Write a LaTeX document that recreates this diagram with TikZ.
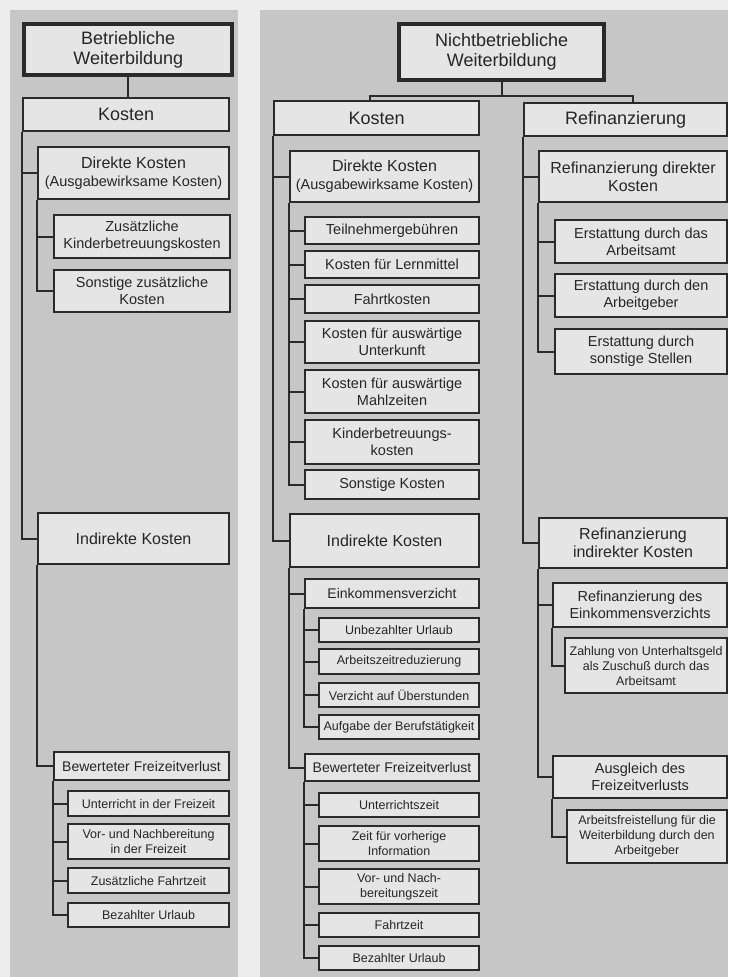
\documentclass[tikz,border=0pt]{standalone}
\usepackage{fontspec}
\setmainfont{Liberation Sans}
\usetikzlibrary{calc}
\definecolor{page}{HTML}{EDEDED}
\definecolor{panel}{HTML}{C6C6C6}
\definecolor{boxfill}{HTML}{E5E5E5}
\definecolor{ink}{HTML}{2A2A2A}

\begin{document}
\begin{tikzpicture}[x=1pt,y=-1pt,
    box/.style={draw=ink,fill=boxfill,line width=2.1pt,anchor=north west,
        align=center,inner sep=0pt,text=ink!90!black},
    sz/.style 2 args={minimum width=#1pt,minimum height=#2pt},
    head/.style={line width=4.4pt},
    lvA/.style={font=\fontsize{18}{20}\selectfont},
    lvB/.style={font=\fontsize{16}{18}\selectfont},
    lvC/.style={font=\fontsize{14.5}{17}\selectfont},
    lvD/.style={font=\fontsize{12.5}{15}\selectfont},
    link/.style={draw=ink,line width=2.1pt}]
    \fill[page](0,0)rectangle(728,977);
    \fill[panel](10,10)rectangle(238,977);
    \fill[panel](260,10)rectangle(728,977);

    \node[box,head,lvA,sz={208}{51}](bw)at(22,22){Betriebliche\\Weiterbildung};
    \node[box,lvA,sz={206}{33}](bk)at(22,97){Kosten};
    \node[box,lvB,sz={191}{52}](bdk)at(37,146){Direkte Kosten\\{\fontsize{14.5}{17}\selectfont(Ausgabewirksame Kosten)}};
    \node[box,lvC,sz={176}{43}](bd1)at(53,214){Zusätzliche\\Kinderbetreuungskosten};
    \node[box,lvC,sz={176}{42}](bd2)at(53,269){Sonstige zusätzliche\\Kosten};
    \node[box,lvB,sz={191}{51}](bik)at(37,512){Indirekte Kosten};
    \node[box,lvC,font=\fontsize{14}{17}\selectfont,sz={175}{28}](bfz)at(53,751){Bewerteter Freizeitverlust};
    \node[box,lvD,sz={161}{25}](bf1)at(67,790){Unterricht in der Freizeit};
    \node[box,lvD,sz={161}{35}](bf2)at(67,823){Vor- und Nachbereitung\\in der Freizeit};
    \node[box,lvD,sz={161}{25}](bf3)at(67,867){Zusätzliche Fahrtzeit};
    \node[box,lvD,sz={161}{24}](bf4)at(67,902){Bezahlter Urlaub};

    \draw[link](bw.south)--(bw.south|-bk.north);
    \draw[link](bk.south west)|-(bdk.west) (bk.south west)|-(bik.west);
    \draw[link](bdk.south west)|-(bd1.west) (bdk.south west)|-(bd2.west);
    \draw[link](bik.south west)|-(bfz.west);
    \foreach \n in {bf1,bf2,bf3,bf4}
        \draw[link](bfz.south west)|-(\n.west);

    \node[box,head,lvA,sz={205}{56}](nw)at(397,22){Nichtbetriebliche\\Weiterbildung};
    \node[box,lvA,sz={205}{34}](nk)at(273,100){Kosten};
    \node[box,lvB,sz={189}{51}](ndk)at(289,150){Direkte Kosten\\{\fontsize{14.5}{17}\selectfont(Ausgabewirksame Kosten)}};
    \node[box,lvC,sz={174}{27}](nd1)at(304,216){Teilnehmergebühren};
    \node[box,lvC,sz={174}{27}](nd2)at(304,250){Kosten für Lernmittel};
    \node[box,lvC,sz={174}{28}](nd3)at(304,284){Fahrtkosten};
    \node[box,lvC,sz={174}{42}](nd4)at(304,320){Kosten für auswärtige\\Unterkunft};
    \node[box,lvC,sz={174}{43}](nd5)at(304,369){Kosten für auswärtige\\Mahlzeiten};
    \node[box,lvC,sz={174}{44}](nd6)at(304,419){Kinderbetreuungs-\\kosten};
    \node[box,lvC,sz={174}{29}](nd7)at(304,469){Sonstige Kosten};
    \node[box,lvB,sz={189}{53}](nik)at(289,513){Indirekte Kosten};
    \node[box,lvC,font=\fontsize{14}{17}\selectfont,sz={174}{29}](nev)at(304,578){Einkommensverzicht};
    \node[box,lvD,sz={160}{24}](ne1)at(318,617){Unbezahlter Urlaub};
    \node[box,lvD,sz={160}{25}](ne2)at(318,648){Arbeitszeitreduzierung};
    \node[box,lvD,sz={160}{24}](ne3)at(318,682){Verzicht auf Überstunden};
    \node[box,lvD,sz={160}{24}](ne4)at(318,714){Aufgabe der Berufstätigkeit};
    \node[box,lvC,font=\fontsize{14}{17}\selectfont,sz={174}{27}](nfz)at(304,753){Bewerteter Freizeitverlust};
    \node[box,lvD,sz={160}{24}](nf1)at(318,792){Unterrichtszeit};
    \node[box,lvD,sz={160}{35}](nf2)at(318,825){Zeit für vorherige\\Information};
    \node[box,lvD,sz={160}{35}](nf3)at(318,868){Vor- und Nach-\\bereitungszeit};
    \node[box,lvD,sz={160}{24}](nf4)at(318,912){Fahrtzeit};
    \node[box,lvD,sz={160}{24}](nf5)at(318,945){Bezahlter Urlaub};

    \node[box,lvA,sz={203}{33}](nr)at(523,102){Refinanzierung};
    \node[box,lvB,sz={188}{51}](rdk)at(538,150){Refinanzierung direkter\\Kosten};
    \node[box,lvC,sz={172}{43}](rd1)at(554,219){Erstattung durch das\\Arbeitsamt};
    \node[box,lvC,sz={172}{43}](rd2)at(554,273){Erstattung durch den\\Arbeitgeber};
    \node[box,lvC,sz={172}{45}](rd3)at(554,328){Erstattung durch\\sonstige Stellen};
    \node[box,lvB,sz={188}{50}](rik)at(538,517){Refinanzierung\\indirekter Kosten};
    \node[box,lvC,sz={174}{44}](rev)at(552,582){Refinanzierung des\\Einkommensverzichts};
    \node[box,lvD,sz={162}{55}](re1)at(564,637){Zahlung von Unterhaltsgeld\\als Zuschuß durch das\\Arbeitsamt};
    \node[box,lvC,sz={174}{42}](rfz)at(552,755){Ausgleich des\\Freizeitverlusts};
    \node[box,lvD,sz={160}{53}](rf1)at(566,809){Arbeitsfreistellung für die\\Weiterbildung durch den\\Arbeitgeber};

    \coordinate(nbar)at($(nw.south)+(0,14)$);
    \draw[link](nw.south)--(nbar);
    \draw[link]([xshift=-7pt]nk.north)|-(nbar)-|([xshift=7pt]nr.north);
    \draw[link](nk.south west)|-(ndk.west) (nk.south west)|-(nik.west);
    \foreach \n in {nd1,nd2,nd3,nd4,nd5,nd6,nd7}
        \draw[link](ndk.south west)|-(\n.west);
    \draw[link](nik.south west)|-(nev.west) (nik.south west)|-(nfz.west);
    \foreach \n in {ne1,ne2,ne3,ne4}
        \draw[link](nev.south west)|-(\n.west);
    \foreach \n in {nf1,nf2,nf3,nf4,nf5}
        \draw[link](nfz.south west)|-(\n.west);

    \draw[link](nr.south west)|-(rdk.west) (nr.south west)|-(rik.west);
    \foreach \n in {rd1,rd2,rd3}
        \draw[link](rdk.south west)|-(\n.west);
    \draw[link](rik.south west)|-(rev.west) (rik.south west)|-(rfz.west);
    \draw[link](rev.south west)|-(re1.west);
    \draw[link](rfz.south west)|-(rf1.west);
\end{tikzpicture}
\end{document}
